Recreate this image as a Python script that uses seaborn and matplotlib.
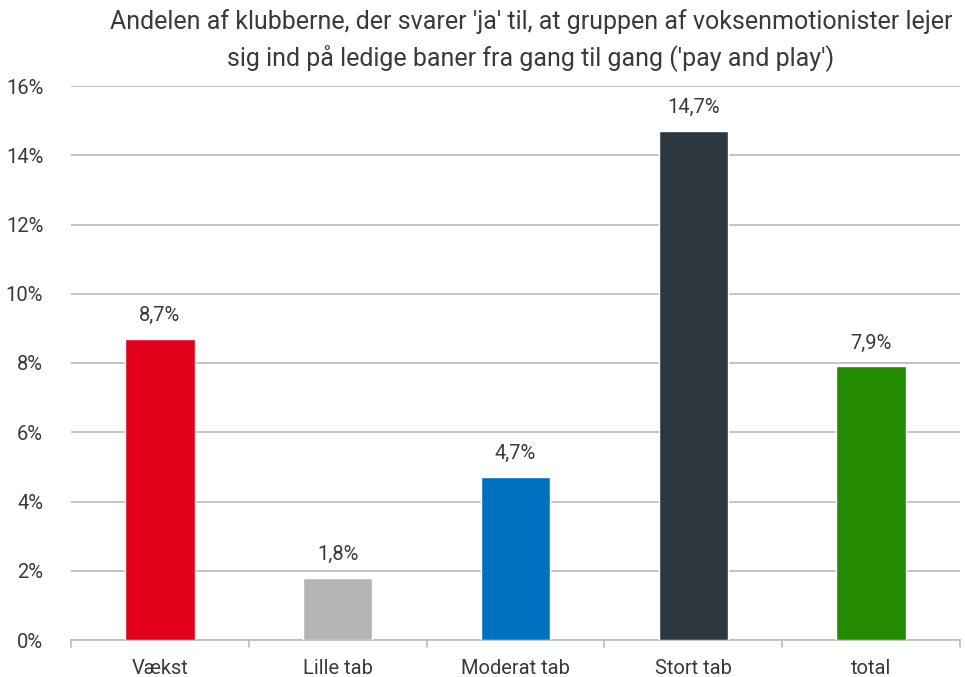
import matplotlib
matplotlib.use("Agg")
import matplotlib.pyplot as plt
import seaborn as sns
import pandas as pd

categories = ["Vækst", "Lille tab", "Moderat tab", "Stort tab", "total"]
values = [8.7, 1.8, 4.7, 14.7, 7.9]
colors = ["#E2001A", "#B4B4B4", "#0070C0", "#2D3740", "#228B00"]
yticks = [0, 2, 4, 6, 8, 10, 12, 14, 16]

title = ("Andelen af klubberne, der svarer 'ja' til, at gruppen af voksenmotionister lejer\n"
         "sig ind på ledige baner fra gang til gang ('pay and play')")

sns.set_theme(style="white")
plt.rcParams['font.family'] = ['Roboto', 'DejaVu Sans']
txt = "#3A3A3A"
grid = "#BFBFBF"

df = pd.DataFrame({"cat": categories, "val": values})

fig = plt.figure(figsize=(9.65, 6.77), dpi=100)
ax = fig.add_axes([71 / 965, 1 - 640 / 677, (960 - 71) / 965, (640 - 86) / 677])

sns.barplot(data=df, x="cat", y="val", hue="cat", palette=colors, legend=False,
            width=0.39, saturation=1, ax=ax, zorder=3)

ax.set_ylim(0, 16)
ax.set_xlim(-0.5, 4.5)
ax.set_yticks(yticks)
ax.set_yticklabels([f"{t}%" for t in yticks], fontsize=14.5, color=txt)
ax.tick_params(axis="y", length=0, pad=20)
ax.tick_params(axis="x", length=0, pad=14, labelsize=14.5, labelcolor=txt)

ax.grid(axis="y", color=grid, linewidth=1.3, zorder=0)
for s in ["top", "right", "left"]:
    ax.spines[s].set_visible(False)
ax.spines["bottom"].set_color(grid)
ax.spines["bottom"].set_linewidth(1.3)

# category divider ticks
for b in [-0.5, 0.5, 1.5, 2.5, 3.5, 4.5]:
    ax.plot([b, b], [0, -0.2], color=grid, linewidth=1.3, clip_on=False, zorder=3)

for i, v in enumerate(values):
    ax.annotate(f"{v:.1f}%".replace(".", ","), (i, v), xytext=(0, 10),
                textcoords="offset points", ha="center", va="bottom",
                fontsize=14.5, color=txt)

ax.set_xlabel("")
ax.set_ylabel("")
fig.text(531 / 965, 1 - 40 / 677, title, ha="center", va="center", fontsize=18,
         color=txt, linespacing=1.45)

fig.savefig("out.png", dpi=100)
